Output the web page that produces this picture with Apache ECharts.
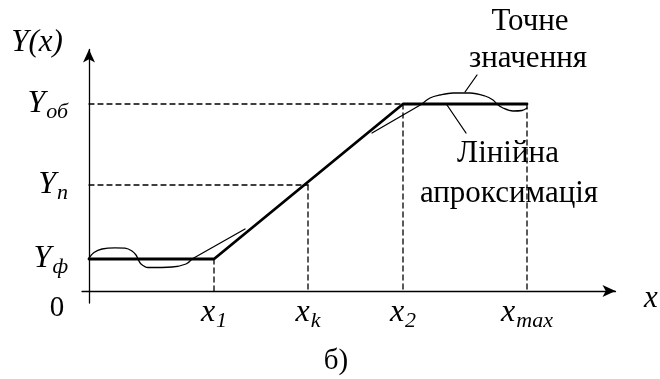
<!DOCTYPE html>
<html>
<head>
    <meta charset="utf-8" />
    <title>Лінійна апроксимація</title>
    <script src="https://cdn.jsdelivr.net/npm/echarts@6/dist/echarts.min.js"></script>
</head>
<body style="margin:0;background:#fff;">
    <div id="chart" style="width:660px;height:379px;"></div>
    <script type="text/javascript">
        // levels and points (1 unit = 10 px on both axes)
        var yPhi = 3.2, yN = 10.6, yOb = 18.7;
        var x1 = 12.5, xk = 21.9, x2 = 31.4, xMax = 43.8;

        var xTicks = [x1, xk, x2, xMax];
        var xNames = [['x', '1'], ['x', 'k'], ['x', '2'], ['x', 'max']];
        var yTicks = [yPhi, yN, yOb];
        var yNames = [['Y', 'ф'], ['Y', 'п'], ['Y', 'об']];

        // linear approximation
        var approx = [[0, yPhi], [x1, yPhi], [x2, yOb], [xMax, yOb]];
        // exact value (thin curve)
        var exactLeft = [[0, 3.3], [0.5, 3.85], [1.3, 4.2], [2.6, 4.32], [3.6, 4.28], [4.3, 4.0], [4.7, 3.6],
            [4.9, 3.2], [5.2, 2.7], [5.9, 2.35], [8.3, 2.4], [9.7, 2.7], [10.3, 3.2]];
        var tangentLeft = [[10.3, 3.2], [15.6, 6.2]];
        var tangentRight = [[28.3, 15.8], [33.3, 18.7]];
        var exactRight = [[33.3, 18.7], [34.1, 19.3], [35.1, 19.6], [36.4, 19.8], [38.1, 19.8], [39.6, 19.5],
            [40.4, 19.1], [40.8, 18.7], [41.4, 18.3], [42.4, 18.0], [43.3, 18.05], [43.8, 18.3]];
        // leader lines of the notes
        var leaderTop = [[38.8, 21.6], [37.6, 19.9]];
        var leaderBottom = [[35.8, 18.6], [37.7, 15.8]];

        // dashed projection lines
        var guides = [
            [[0, yOb], [x2, yOb]],
            [[0, yN], [xk, yN]],
            [[x1, yPhi], [x1, 0]],
            [[xk, yN], [xk, 0]],
            [[x2, yOb], [x2, 0]],
            [[xMax, yOb], [xMax, 0]]
        ];

        var chart = echarts.init(document.getElementById('chart'));
        var serif = '"Liberation Serif", "DejaVu Serif", serif';

        function lineSeries(data, width, type, smooth) {
            return {
                type: 'line',
                data: data,
                symbol: 'none',
                smooth: smooth || false,
                lineStyle: { color: '#000', width: width, type: type || 'solid', cap: 'round' },
                silent: true
            };
        }

        var series = [];
        guides.forEach(function (g) {
            series.push(lineSeries(g, 1.3, [5, 4]));
        });
        series.push(lineSeries(approx, 2.8));
        series.push(lineSeries(exactLeft, 1.3, 'solid', 0.35));
        series.push(lineSeries(tangentLeft, 1.3));
        series.push(lineSeries(tangentRight, 1.3));
        series.push(lineSeries(exactRight, 1.3, 'solid', 0.35));
        series.push(lineSeries(leaderTop, 1.3));
        series.push(lineSeries(leaderBottom, 1.3));

        var richMath = {
            m: { fontFamily: serif, fontStyle: 'italic', fontSize: 32, color: '#000' },
            s: { fontFamily: serif, fontStyle: 'italic', fontSize: 22, color: '#000', padding: [16, 0, 0, 1] }
        };

        var option = {
            animation: false,
            grid: { left: 82, top: 49.5, width: 533.5, height: 253.5 },
            xAxis: {
                type: 'value',
                min: -0.7,
                max: 52.65,
                splitLine: { show: false },
                axisTick: { show: false },
                axisLine: {
                    show: true, onZero: true,
                    symbol: ['none', 'arrow'], symbolSize: [9, 13],
                    lineStyle: { color: '#000', width: 1.3 }
                },
                axisLabel: {
                    customValues: xTicks,
                    margin: -9,
                    formatter: function (v) {
                        var n = xNames[xTicks.indexOf(v)];
                        return '{m|' + n[0] + '}{s|' + n[1] + '}';
                    },
                    rich: richMath
                }
            },
            yAxis: {
                type: 'value',
                min: -1.2,
                max: 24.15,
                splitLine: { show: false },
                axisTick: { show: false },
                axisLine: {
                    show: true, onZero: true,
                    symbol: ['none', 'arrow'], symbolSize: [9, 13],
                    lineStyle: { color: '#000', width: 1.3 }
                },
                axisLabel: {
                    customValues: yTicks,
                    margin: 14,
                    formatter: function (v) {
                        var n = yNames[yTicks.indexOf(v)];
                        return '{m|' + n[0] + '}{s|' + n[1] + '}';
                    },
                    rich: richMath
                }
            },
            graphic: [
                { type: 'text', style: { text: 'Y(x)', x: 37, y: 43, align: 'center', verticalAlign: 'middle', font: 'italic 31px ' + serif, fill: '#000' } },
                { type: 'text', style: { text: 'x', x: 651, y: 299, align: 'center', verticalAlign: 'middle', font: 'italic 31px ' + serif, fill: '#000' } },
                { type: 'text', style: { text: '0', x: 57, y: 308, align: 'center', verticalAlign: 'middle', font: '29px ' + serif, fill: '#000' } },
                { type: 'text', style: { text: 'Точне', x: 530, y: 22, align: 'center', verticalAlign: 'middle', font: '31px ' + serif, fill: '#000' } },
                { type: 'text', style: { text: 'значення', x: 528, y: 59, align: 'center', verticalAlign: 'middle', font: '31px ' + serif, fill: '#000' } },
                { type: 'text', style: { text: 'Лінійна', x: 508, y: 154, align: 'center', verticalAlign: 'middle', font: '31px ' + serif, fill: '#000' } },
                { type: 'text', style: { text: 'апроксимація', x: 509, y: 194, align: 'center', verticalAlign: 'middle', font: '31px ' + serif, fill: '#000' } },
                { type: 'text', style: { text: 'б)', x: 336, y: 361, align: 'center', verticalAlign: 'middle', font: '29px ' + serif, fill: '#000' } }
            ],
            series: series
        };
        chart.setOption(option);
    </script>
</body>
</html>
